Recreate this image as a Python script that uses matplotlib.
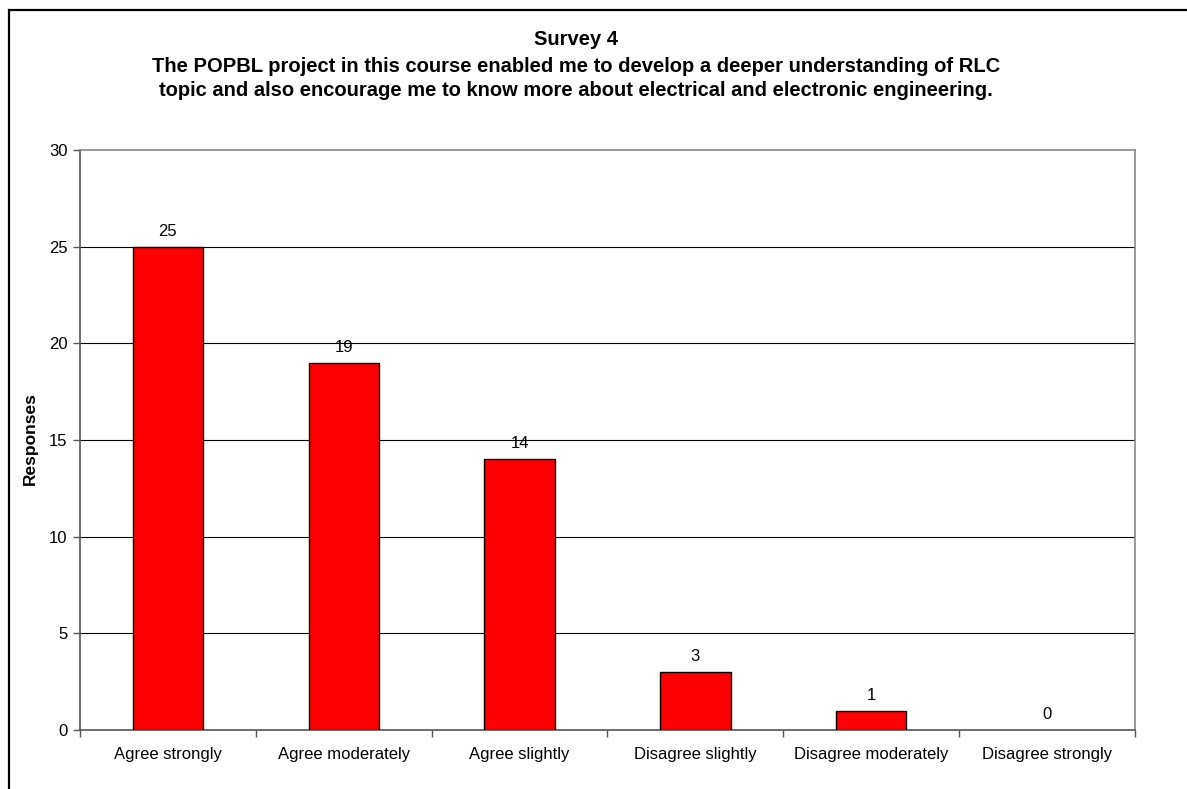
import matplotlib
matplotlib.use("Agg")
import matplotlib.pyplot as plt
from matplotlib.patches import Rectangle

plt.rcParams['font.family'] = ['Liberation Sans', 'DejaVu Sans']

categories = ["Agree strongly", "Agree moderately", "Agree slightly",
              "Disagree slightly", "Disagree moderately", "Disagree strongly"]
responses = [25, 19, 14, 3, 1, 0]
y_ticks = [0, 5, 10, 15, 20, 25, 30]
title_lines = ["Survey 4",
               "The POPBL project in this course enabled me to develop a deeper understanding of RLC",
               "topic and also encourage me to know more about electrical and electronic engineering."]

W, H = 1187, 789
fig = plt.figure(figsize=(W / 100, H / 100), dpi=100)
fig.patch.set_facecolor("white")

# outer chart frame (runs off the right and bottom edges)
fig.add_artist(Rectangle((9 / W, -0.05), 1.2, 1 - 10 / H + 0.05, transform=fig.transFigure,
                         fill=False, edgecolor="black", linewidth=1.6))

left, right, top, bottom = 80, 1135, 150, 730
ax = fig.add_axes([left / W, 1 - bottom / H, (right - left) / W, (bottom - top) / H])

x = list(range(len(categories)))
ax.bar(x, [v if v > 0 else float("nan") for v in responses], width=0.4,
       color="#ff0000", edgecolor="black", linewidth=1.0, zorder=3)
for xi, v in zip(x, responses):
    ax.annotate(str(v), (xi, v), xytext=(0, 8), textcoords="offset points",
                ha="center", va="baseline", fontsize=12)

ax.set_xlim(-0.5, len(categories) - 0.5)
ax.set_ylim(0, 30)
ax.set_yticks(y_ticks)
ax.set_xticks(x)
ax.set_xticklabels(categories, fontsize=12)
ax.tick_params(axis="x", length=0, pad=12)
ax.tick_params(axis="y", length=5, width=1, color="#555555", labelsize=12, pad=4)

# category boundary ticks on the x axis
ax.set_xticks([i - 0.5 for i in range(len(categories) + 1)], minor=True)
ax.tick_params(axis="x", which="minor", length=5, width=1, color="#555555")

for yv in y_ticks[1:-1]:
    ax.axhline(yv, color="black", linewidth=0.8, zorder=1)

for side in ("top", "right"):
    ax.spines[side].set_color("#888888")
    ax.spines[side].set_linewidth(1.2)
for side in ("left", "bottom"):
    ax.spines[side].set_color("#555555")
    ax.spines[side].set_linewidth(1.2)

fig.text(30 / W, 1 - 439 / H, "Responses", rotation=90, ha="center", va="center",
         fontsize=12.5, fontweight="bold")

cx = 576 / W
baselines = [45, 71.5, 96.5]
for line, yp in zip(title_lines, baselines):
    fig.text(cx, 1 - yp / H, line, ha="center", va="baseline", fontsize=14.5, fontweight="bold")

fig.savefig("out.png", dpi=100)
